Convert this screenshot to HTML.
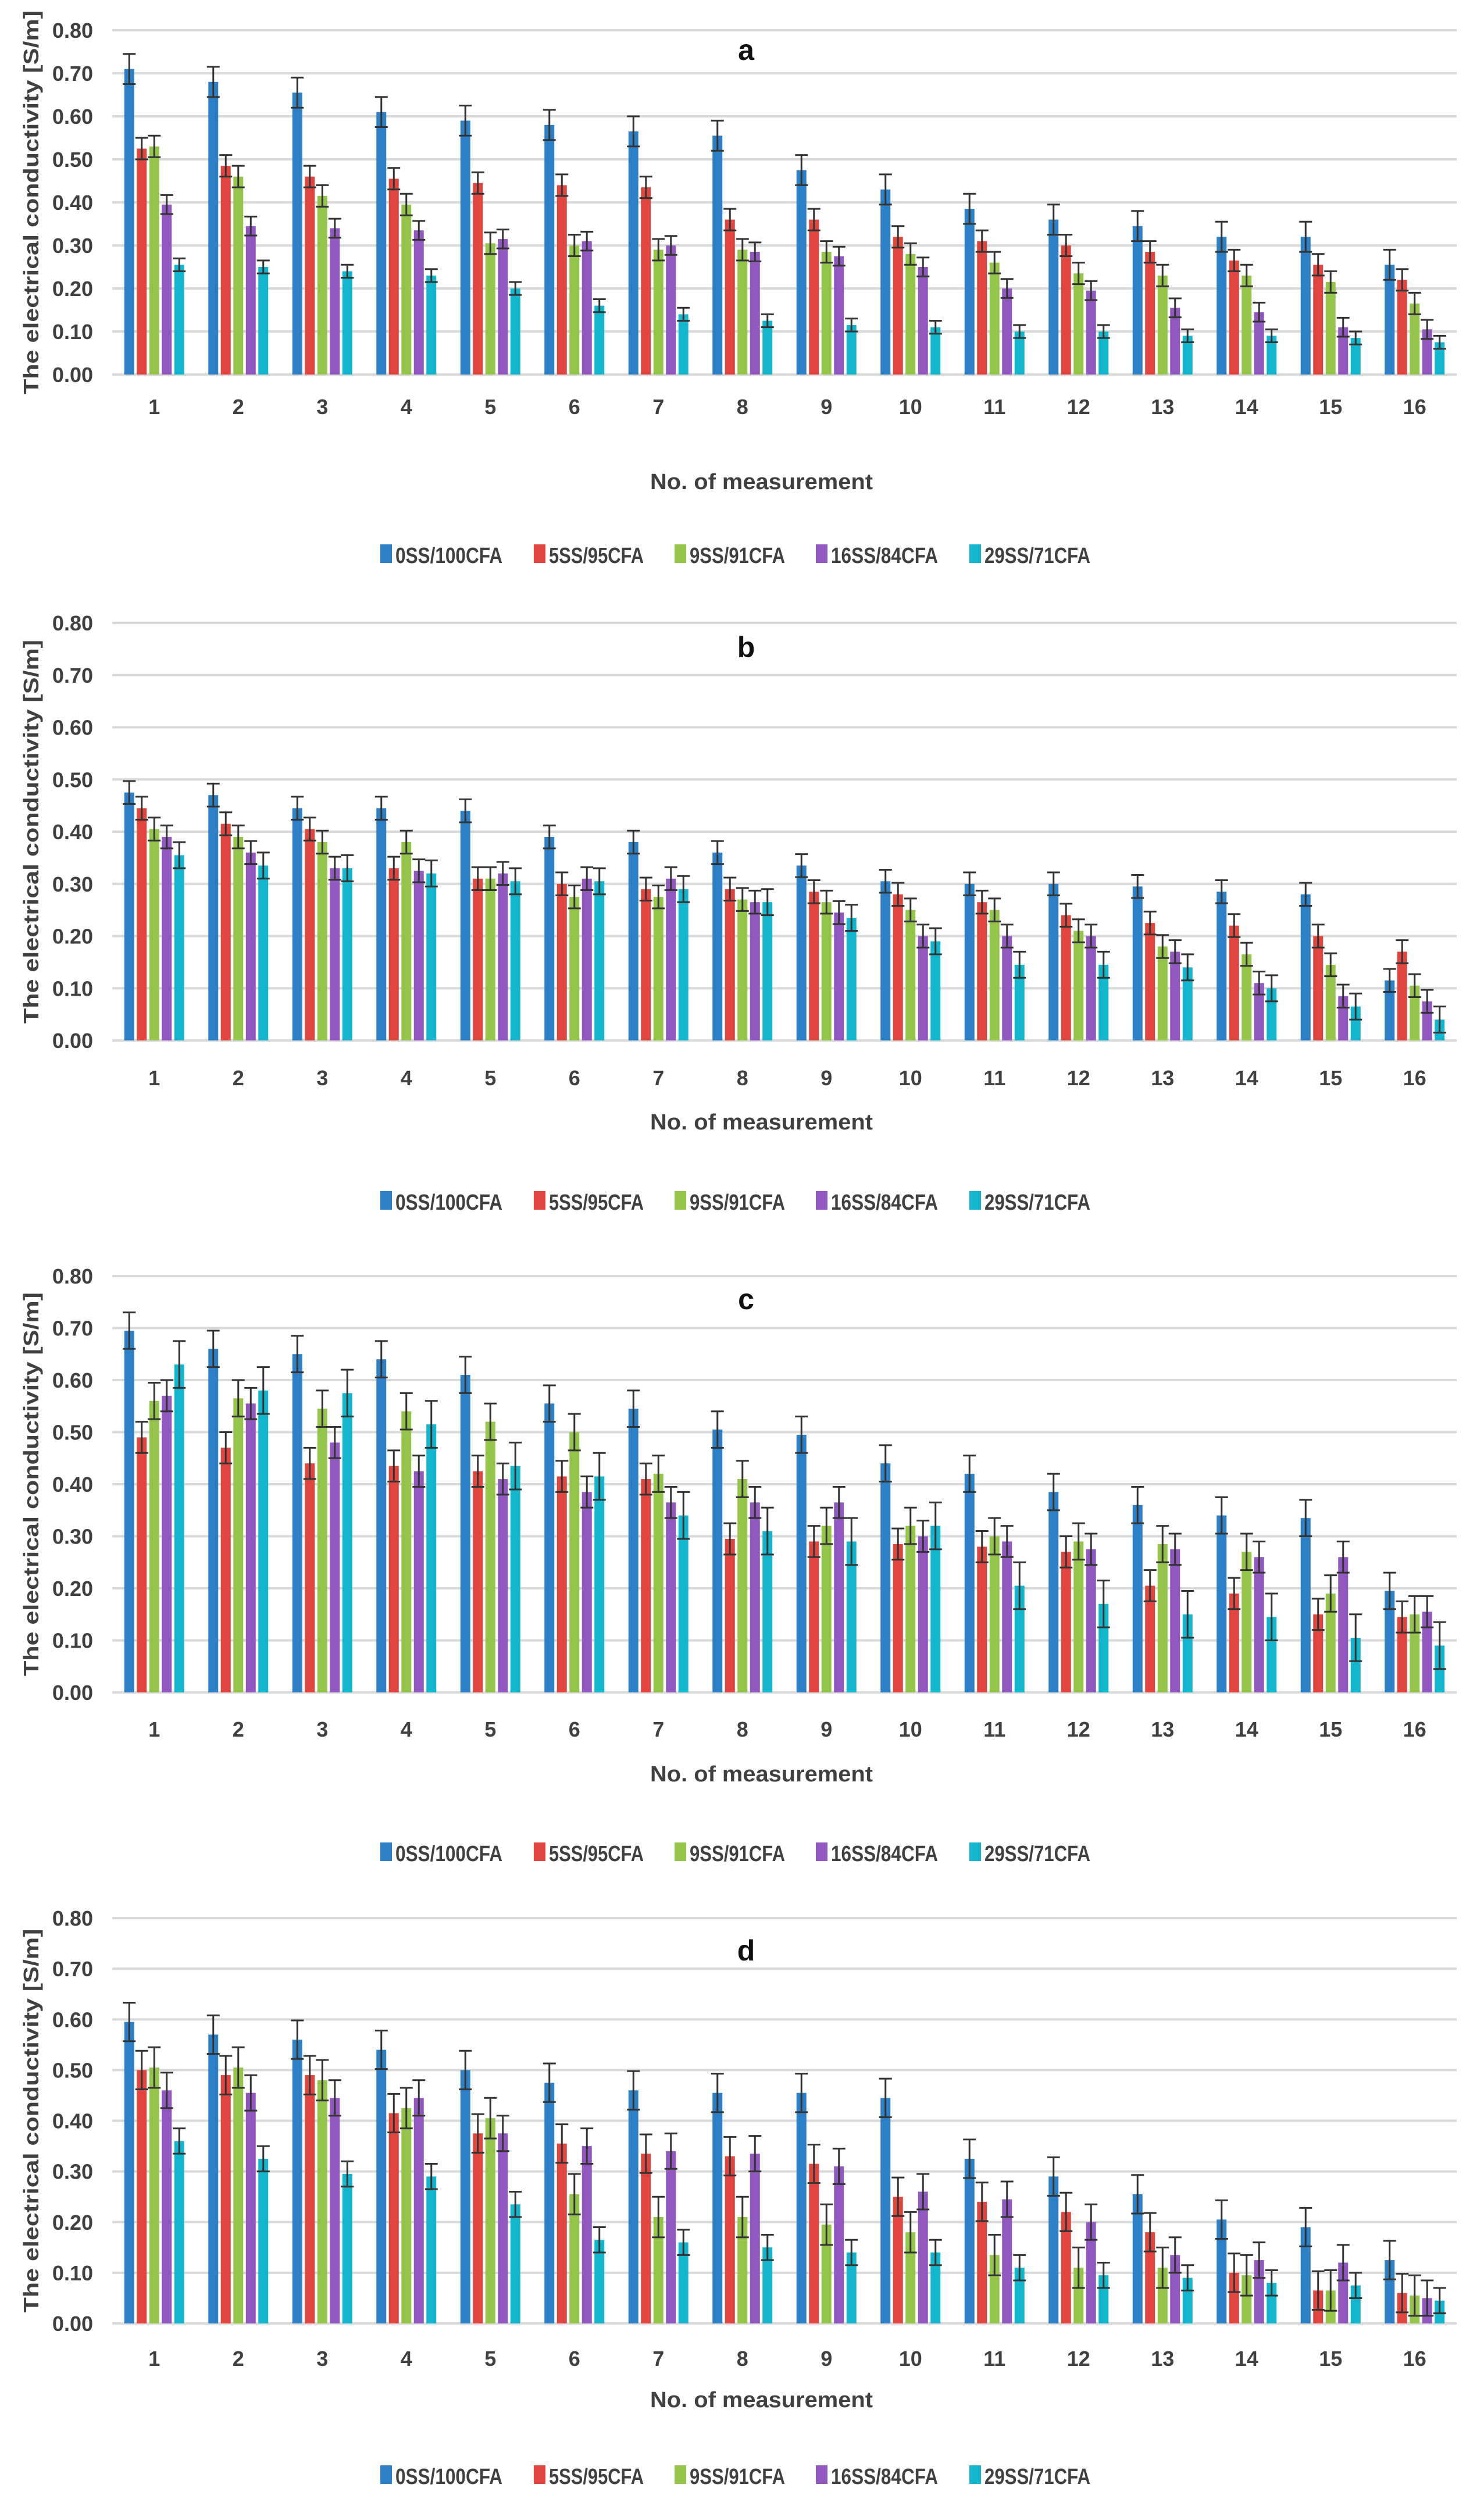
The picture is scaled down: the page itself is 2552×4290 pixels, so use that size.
<!DOCTYPE html>
<html><head><meta charset="utf-8"><style>
html,body{margin:0;padding:0;background:#fff;}
svg{display:block;}
text{fill:#404040;}
.tick{font-family:"Liberation Sans",sans-serif;font-weight:bold;font-size:36px;}
.cond{font-family:"Liberation Sans Narrow","Liberation Sans",sans-serif;font-size:38px;font-weight:bold;}
</style></head><body>
<svg id="chart" width="2552" height="4290" viewBox="0 0 2552 4290" xmlns="http://www.w3.org/2000/svg"></svg>
<script>
const categories = ["1","2","3","4","5","6","7","8","9","10","11","12","13","14","15","16"];
const seriesNames = ["0SS/100CFA","5SS/95CFA","9SS/91CFA","16SS/84CFA","29SS/71CFA"];
const colors = ["#2e80c6","#e0463f","#95c44b","#9159bf","#14b6cd"];
const yTicks = [0,0.1,0.2,0.3,0.4,0.5,0.6,0.7,0.8];
const panelLabels = ["a","b","c","d"];
// panel a
const a0 = [.71,.68,.655,.61,.59,.58,.565,.555,.475,.43,.385,.36,.345,.32,.32,.255];
const a1 = [.525,.485,.46,.455,.445,.44,.435,.36,.36,.32,.31,.30,.285,.265,.255,.22];
const a2 = [.53,.46,.415,.395,.305,.30,.29,.29,.285,.28,.26,.235,.23,.23,.215,.165];
const a3 = [.395,.345,.34,.335,.315,.31,.30,.285,.275,.25,.20,.195,.155,.145,.11,.105];
const a4 = [.255,.25,.24,.23,.20,.16,.14,.125,.115,.11,.10,.10,.09,.09,.085,.075];
const aErr = [.035,.025,.025,.022,.015];
// panel b
const b0 = [.475,.47,.445,.445,.44,.39,.38,.36,.335,.305,.30,.30,.295,.285,.28,.115];
const b1 = [.445,.415,.405,.33,.31,.30,.29,.29,.285,.28,.265,.24,.225,.22,.20,.17];
const b2 = [.405,.39,.38,.38,.31,.275,.275,.27,.265,.25,.25,.21,.18,.165,.145,.105];
const b3 = [.39,.36,.33,.325,.32,.31,.31,.265,.245,.20,.20,.20,.17,.11,.085,.075];
const b4 = [.355,.335,.33,.32,.305,.305,.29,.265,.235,.19,.145,.145,.14,.10,.065,.04];
const bErr = [.022,.022,.022,.022,.025];
// panel c
const c0 = [.695,.66,.65,.64,.61,.555,.545,.505,.495,.44,.42,.385,.36,.34,.335,.195];
const c1 = [.49,.47,.44,.435,.425,.415,.41,.295,.29,.285,.28,.27,.205,.19,.15,.145];
const c2 = [.56,.565,.545,.54,.52,.50,.42,.41,.32,.32,.30,.29,.285,.27,.19,.15];
const c3 = [.57,.555,.48,.425,.41,.385,.365,.365,.365,.30,.29,.275,.275,.26,.26,.155];
const c4 = [.63,.58,.575,.515,.435,.415,.34,.31,.29,.32,.205,.17,.15,.145,.105,.09];
const cErr = [.035,.03,.035,.03,.045];
// panel d
const d0 = [.595,.57,.56,.54,.50,.475,.46,.455,.455,.445,.325,.29,.255,.205,.19,.125];
const d1 = [.50,.49,.49,.415,.375,.355,.335,.33,.315,.25,.24,.22,.18,.10,.065,.06];
const d2 = [.505,.505,.48,.425,.405,.255,.21,.21,.195,.18,.135,.11,.11,.095,.065,.055];
const d3 = [.46,.455,.445,.445,.375,.35,.34,.335,.31,.26,.245,.20,.135,.125,.12,.05];
const d4 = [.36,.325,.295,.29,.235,.165,.16,.15,.14,.14,.11,.095,.09,.08,.075,.045];
const dErr = [.038,.038,.04,.035,.025];

const panelData = [[a0,a1,a2,a3,a4],[b0,b1,b2,b3,b4],[c0,c1,c2,c3,c4],[d0,d1,d2,d3,d4]];
const panelErr = [aErr,bErr,cErr,dErr];
const layout = [
 {top:52,bottom:644,lab:699,xt:826,leg:953,title:85},
 {top:1071,bottom:1789,lab:1853,xt:1927,leg:2065,title:1112},
 {top:2194,bottom:2910,lab:2973,xt:3048,leg:3185,title:2233},
 {top:3298,bottom:3995,lab:4055,xt:4124,leg:4256,title:3353}];
const X0=193, X1=2505;
const NS="http://www.w3.org/2000/svg";
const svg=document.getElementById('chart');
function mk(tag,attrs,parent,txt){const e=document.createElementNS(NS,tag);for(const k in attrs)e.setAttribute(k,attrs[k]);if(txt!==undefined)e.textContent=txt;(parent||svg).appendChild(e);return e;}
const catW=(X1-X0)/categories.length, barW=17, pitch=21.5;
function xScale(ci,si){return X0+catW*(ci+0.5)+(si-2)*pitch;}
const legX=[654,918,1160,1403,1667];
const legW=[184,163,164,184,182];
layout.forEach((L,pi)=>{
  const g=mk('g',{});
  
  
  const y=v=>L.bottom-(v/0.8)*(L.bottom-L.top);
  yTicks.forEach(t=>{
    const gl=mk('line',{x1:X0,x2:X1,y1:y(t),y2:y(t),stroke:'#d9d9d9','stroke-width':4},g);
    
    
    const tl=mk('text',{x:160,y:y(t)+13,'text-anchor':'end',class:'tick'},g,t.toFixed(2));
    
    
  });
  const yt=mk('text',{x:0,y:0,transform:`translate(66,${(L.top+L.bottom)/2}) rotate(-90)`,'text-anchor':'middle',class:'tick','font-size':'38',textLength:'660',lengthAdjust:'spacingAndGlyphs'},g,'The electrical conductivity  [S/m]');
  
  
  const tt=mk('text',{x:1283,y:L.title+18,'text-anchor':'middle',style:'font-family:"Liberation Sans",sans-serif;font-weight:bold;font-size:50px;fill:#111'},g,panelLabels[pi]);
  
  
  panelData[pi].forEach((vals,si)=>{
    vals.forEach((v,ci)=>{
      const cx=xScale(ci,si);
      const r=mk('rect',{x:cx-barW/2,y:y(v),width:barW,height:L.bottom-y(v),fill:colors[si]},g);
      
      
      const e=panelErr[pi][si];
      const eb=mk('path',{d:`M${cx},${y(v+e)}V${y(v-e)}M${cx-11},${y(v+e)}h22M${cx-11},${y(v-e)}h22`,stroke:'#333','stroke-width':3,fill:'none'},g);
      
      
    });
  });
  categories.forEach((c,ci)=>{
    const cl=mk('text',{x:X0+catW*(ci+0.5),y:L.lab+13,'text-anchor':'middle',class:'tick'},g,c);
    
    
  });
  const xt=mk('text',{x:1118,y:L.xt+15,class:'cond','font-size':'44',textLength:'383',lengthAdjust:'spacingAndGlyphs'},g,'No. of measurement');
  
  
  seriesNames.forEach((n,si)=>{
    const sw=mk('rect',{x:legX[si],y:L.leg-17,width:20,height:32,fill:colors[si]},g);
    
    
    const lt=mk('text',{x:legX[si]+26,y:L.leg+15,class:'cond','font-size':'42',textLength:legW[si],lengthAdjust:'spacingAndGlyphs'},g,n);
    
    
  });
});
</script>
</body></html>
